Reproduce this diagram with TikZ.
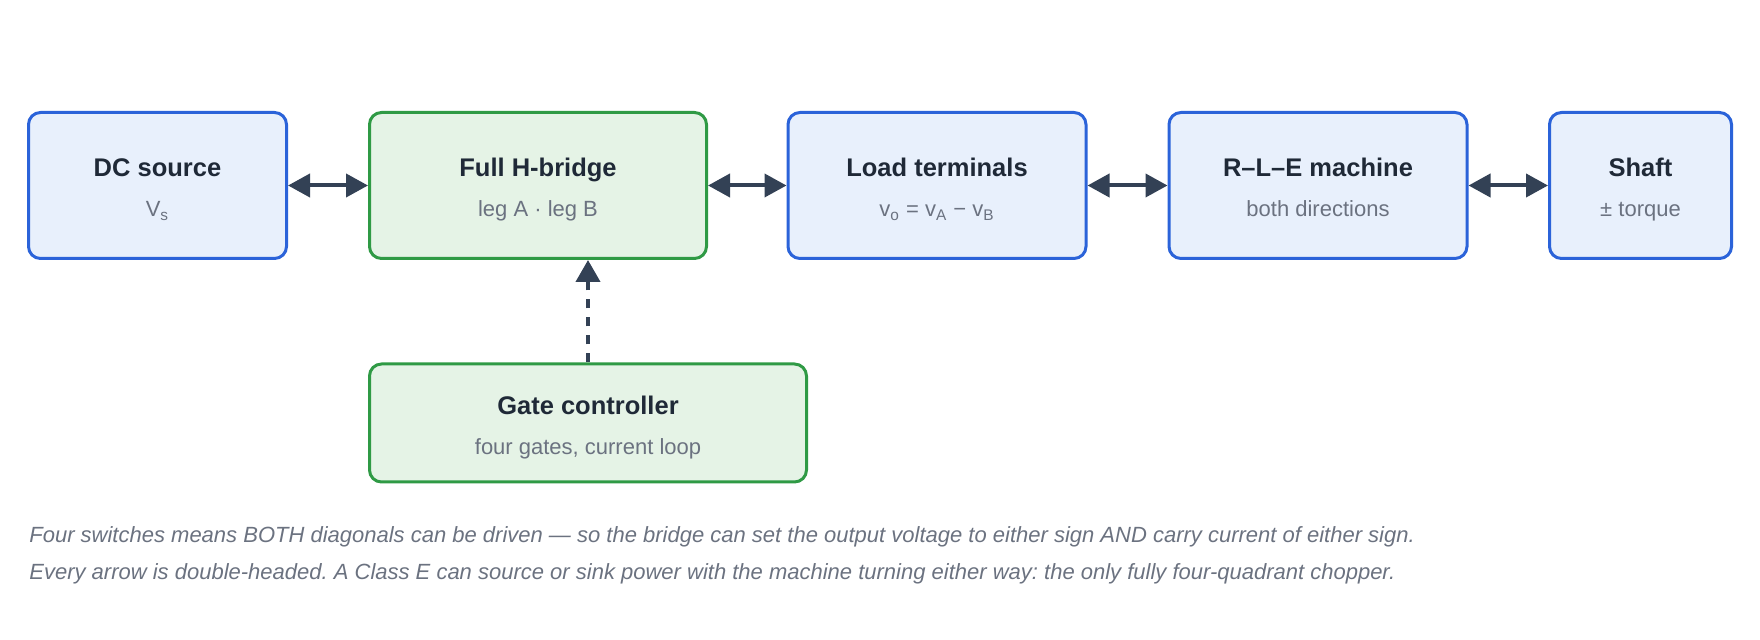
\documentclass[tikz,border=0pt]{standalone}
\usepackage{fontspec}
\setmainfont{Liberation Sans}
\usepackage{tikz}
\usetikzlibrary{arrows.meta}
\definecolor{blueln}{HTML}{2B63D9}
\definecolor{bluefill}{HTML}{E8F0FC}
\definecolor{greenln}{HTML}{2F9A45}
\definecolor{greenfill}{HTML}{E5F3E6}
\definecolor{titletxt}{HTML}{1F2937}
\definecolor{subtxt}{HTML}{6B7280}
\definecolor{arrowc}{HTML}{334155}
\newcommand\subln[1]{{\fontsize{11}{20}\selectfont\mdseries\color{subtxt}#1}}
\frenchspacing
\begin{document}
\begin{tikzpicture}[x=0.5pt,y=-0.5pt,
  b/.style={draw,line width=1.5pt,rounded corners=6pt,align=center,inner sep=0pt,minimum height=73pt,
    text height=33pt,text depth=1.5pt,font=\fontsize{12.75}{20}\selectfont\bfseries\color{titletxt}},
  bb/.style={b,draw=blueln,fill=bluefill},
  bg/.style={b,draw=greenln,fill=greenfill},
  lnk/.style={{Triangle[length=11pt,width=11.5pt]}-{Triangle[length=11pt,width=11.5pt]},line width=2pt,draw=arrowc},
  captxt/.style={anchor=base west,inner sep=0pt,font=\fontsize{11}{13}\selectfont\itshape,text=subtxt}]
\useasboundingbox (0,0) rectangle (1760,640);
\node[bb,minimum width=129pt] (dc) at (157.5,185.5) {DC source\\\subln{V\textsubscript{s}}};
\node[bg,minimum width=168.5pt] (hb) at (538,185.5) {Full H-bridge\\\subln{leg A · leg B}};
\node[bb,minimum width=149pt] (lt) at (937,185.5) {Load terminals\\\subln{v\textsubscript{o} = v\textsubscript{A} − v\textsubscript{B}}};
\node[bb,minimum width=149pt] (rle) at (1318,185.5) {R–L–E machine\\\subln{both directions}};
\node[bb,minimum width=91pt] (sh) at (1640.5,185.5) {Shaft\\\subln{± torque}};
\node[bg,minimum width=218.5pt,minimum height=59pt] (gc) at (588,423) {Gate controller\\\subln{four gates, current loop}};
\foreach \u/\v in {dc/hb,hb/lt,lt/rle,rle/sh} \draw[lnk] (\u) -- (\v);
\draw[line width=2pt,draw=arrowc,dash pattern=on 4.5pt off 4.5pt,-{Triangle[length=11pt,width=12pt]}] (gc) -- (gc |- hb.south);
\node[captxt] (cap1) at (29,542) {Four switches means BOTH diagonals can be driven — so the bridge can set the output voltage to either sign AND carry current of either sign.};
\node[captxt] (cap2) at (29,579) {Every arrow is double-headed. A Class E can source or sink power with the machine turning either way: the only fully four-quadrant chopper.};
\end{tikzpicture}
\end{document}
